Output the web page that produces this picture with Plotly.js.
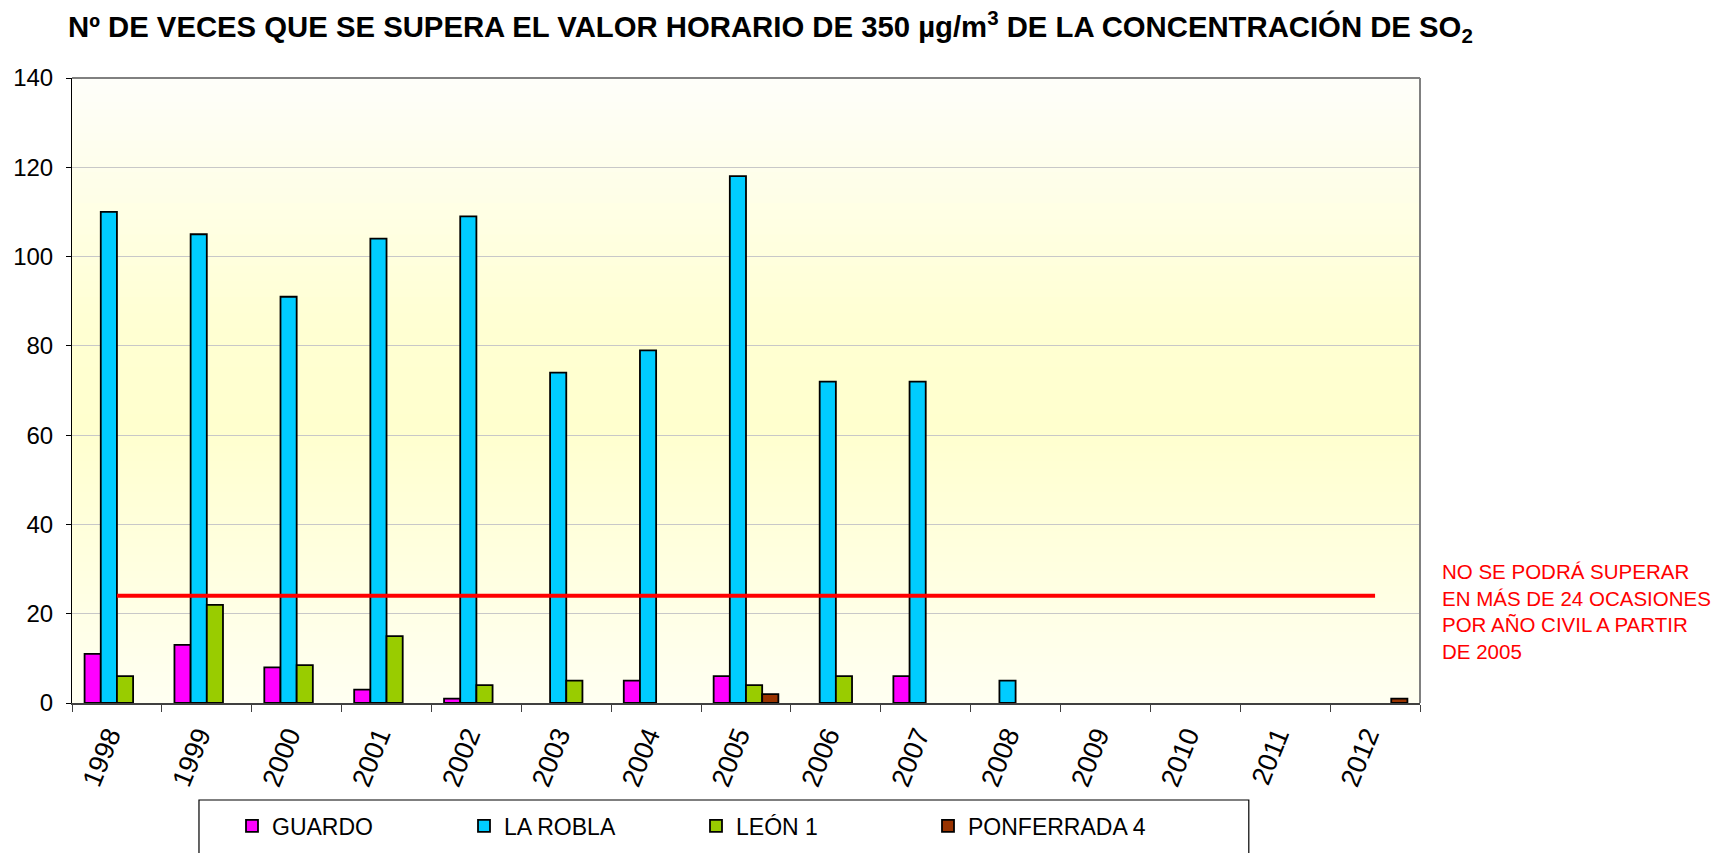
<!DOCTYPE html>
<html>
<head>
<meta charset="utf-8">
<script src="https://cdn.plot.ly/plotly-3.0.1.min.js"></script>
<style>html,body{margin:0;padding:0;background:#fff;}#chart{width:1720px;height:853px;}</style>
</head>
<body>
<div id="chart"></div>
<script>
// ---- data ----
const years = ["1998","1999","2000","2001","2002","2003","2004","2005","2006","2007","2008","2009","2010","2011","2012"];
const guardo     = [11, 13, 8, 3, 1, null, 5, 6, null, 6, null, null, null, null, null];
const laRobla    = [110, 105, 91, 104, 109, 74, 79, 118, 72, 72, 5, null, null, null, null];
const leon1      = [6, 22, 8.5, 15, 4, 5, null, 4, 6, null, null, null, null, null, null];
const ponferrada = [null, null, null, null, null, null, null, 2, null, null, null, null, null, null, 1];
const limite     = [24, 24, 24, 24, 24, 24, 24, 24, 24, 24, 24, 24, 24, 24, 24];
const seriesNames = ["GUARDO", "LA ROBLA", "LEÓN 1", "PONFERRADA 4"];
const seriesColors = ["#FF00FF", "#00CCFF", "#99CC00", "#993300"];
const yTicks = [0, 20, 40, 60, 80, 100, 120, 140];

const FONT = "Liberation Sans, Arial, sans-serif";

const seriesData = [guardo, laRobla, leon1, ponferrada];
const traces = seriesData.map((vals, i) => ({
  type: "bar",
  name: seriesNames[i],
  x: years,
  y: vals,
  marker: {color: seriesColors[i], line: {color: "#000000", width: 1.8}},
  hoverinfo: "x+y+name"
}));
traces.push({
  type: "scatter",
  mode: "lines",
  x: years,
  y: limite,
  line: {color: "#FF0000", width: 4},
  showlegend: false,
  hoverinfo: "y"
});

// background gradient bands (style only)
function lerp(a, b, t) { return Math.round(a + (b - a) * t); }
const stops = [
  [0.0, [255, 255, 241]],
  [0.45, [255, 255, 206]],
  [0.6, [255, 255, 210]],
  [1.0, [254, 254, 250]]
];
function colorAt(p) {
  for (let k = 0; k < stops.length - 1; k++) {
    const [p0, c0] = stops[k], [p1, c1] = stops[k + 1];
    if (p >= p0 && p <= p1) {
      const t = (p - p0) / (p1 - p0);
      return `rgb(${lerp(c0[0], c1[0], t)},${lerp(c0[1], c1[1], t)},${lerp(c0[2], c1[2], t)})`;
    }
  }
  return "rgb(255,255,250)";
}
const shapes = [];
const N = 80;
for (let k = 0; k < N; k++) {
  const y0 = k / N, y1 = (k + 1) / N;
  shapes.push({type: "rect", xref: "paper", yref: "paper", x0: 0, x1: 1, y0: y0, y1: y1 + 0.002,
    fillcolor: colorAt((y0 + y1) / 2), line: {width: 0}, layer: "below"});
}
// plot border (top and right)
shapes.push({type: "line", xref: "paper", yref: "paper", x0: 0, x1: 1, y0: 1, y1: 1, line: {color: "#808080", width: 2}});
shapes.push({type: "line", xref: "paper", yref: "paper", x0: 1, x1: 1, y0: 0, y1: 1, line: {color: "#808080", width: 2}});
// legend frame
shapes.push({type: "rect", xref: "paper", yref: "paper", x0: 0.0942, x1: 0.873, y0: -0.26, y1: -0.1552,
  line: {color: "#000000", width: 1.2}, fillcolor: "rgba(0,0,0,0)"});

const layout = {
  width: 1720, height: 853,
  margin: {l: 72, r: 300, t: 78, b: 150},
  paper_bgcolor: "#FFFFFF",
  plot_bgcolor: "#FFFFFF",
  font: {family: FONT, color: "#000000"},
  title: {
    text: "<b>Nº DE VECES QUE SE SUPERA EL VALOR HORARIO DE 350 µg/m<sup>3</sup> DE LA CONCENTRACIÓN DE SO<sub>2</sub></b>",
    x: 68 / 1720, xanchor: "left", xref: "container",
    y: 1 - 27 / 853, yanchor: "middle", yref: "container",
    font: {family: FONT, size: 29.3, color: "#000000"}
  },
  barmode: "group",
  bargap: 0.28,
  bargroupgap: 0,
  xaxis: {
    type: "category",
    tickangle: -68,
    tickfont: {family: FONT, size: 27, color: "#000000"},
    ticks: "outside", ticklen: 7, tickcolor: "#404040", tickwidth: 1,
    tickson: "boundaries",
    showline: true, linecolor: "#404040", linewidth: 2,
    showgrid: false, zeroline: false,
    ticklabelstandoff: 4,
    ticklabelshift: -8,
    fixedrange: true
  },
  yaxis: {
    range: [0, 140],
    tickvals: yTicks,
    tickfont: {family: FONT, size: 24, color: "#000000"},
    ticks: "outside", ticklen: 5, tickcolor: "#000000",
    showline: true, linecolor: "#000000", linewidth: 1,
    showgrid: true, gridcolor: "#C8C8C8", gridwidth: 1,
    zeroline: false,
    ticklabelstandoff: 8,
    fixedrange: true
  },
  legend: {
    orientation: "h",
    xref: "container", yref: "container",
    x: 232 / 1720, xanchor: "left",
    y: 1 - 826 / 853, yanchor: "middle",
    font: {family: FONT, size: 23, color: "#000000"},
    bgcolor: "rgba(0,0,0,0)",
    borderwidth: 0,
    entrywidth: 187, entrywidthmode: "pixels",
    traceorder: "normal"
  },
  annotations: [{
    xref: "paper", yref: "paper",
    x: 1.0148, y: 0.147, xanchor: "left", yanchor: "middle", align: "left",
    showarrow: false,
    text: "NO SE PODRÁ SUPERAR<br>EN MÁS DE 24 OCASIONES<br>POR AÑO CIVIL A PARTIR<br>DE 2005",
    font: {family: FONT, size: 20.5, color: "#FF0000"}
  }],
  shapes: shapes,
  showlegend: true
};

Plotly.newPlot("chart", traces, layout, {displayModeBar: false, staticPlot: false});
</script>
</body>
</html>
